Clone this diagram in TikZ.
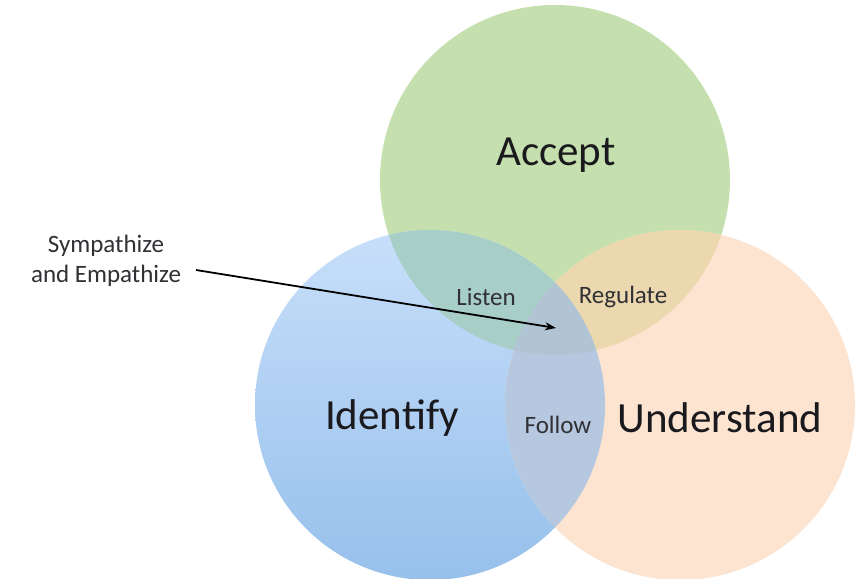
\documentclass[tikz,border=0pt]{standalone}
\usepackage{fontspec}
\setmainfont{Carlito}
\usetikzlibrary{arrows.meta}
\definecolor{cgreen}{RGB}{197,224,174}
\definecolor{cbluetop}{RGB}{200,223,250}
\definecolor{cbluebot}{RGB}{150,192,235}
\definecolor{corange}{RGB}{252,228,208}
\definecolor{cgb}{RGB}{168,206,200}
\definecolor{cgo}{RGB}{236,216,174}
\definecolor{cbo}{RGB}{181,200,224}
\definecolor{cgbo}{RGB}{176,196,212}
\definecolor{ctext}{RGB}{25,25,30}
\tikzset{
  bigtxt/.style={font=\fontsize{43}{48}\selectfont, text=ctext, inner sep=0pt},
  smalltxt/.style={font=\fontsize{25}{30}\selectfont, text=ctext!90, inner sep=0pt},
}
\begin{document}
\begin{tikzpicture}[x=1pt,y=-1pt]
\useasboundingbox (0,0) rectangle (856,578);
\fill[white] (0,0) rectangle (856,578);
\coordinate (G) at (555,180);
\coordinate (B) at (430,405);
\coordinate (O) at (680,405);
\def\R{175pt}
\fill[cgreen] (G) circle (\R);
\shade[top color=cbluetop, bottom color=cbluebot] (B) circle (\R);
\fill[corange] (O) circle (\R);
\begin{scope}
  \clip (G) circle (\R);
  \fill[cgb] (B) circle (\R);
  \fill[cgo] (O) circle (\R);
\end{scope}
\begin{scope}
  \clip (B) circle (\R);
  \fill[cbo] (O) circle (\R);
  \clip (O) circle (\R);
  \fill[cgbo] (G) circle (\R);
\end{scope}
\node[bigtxt] (accept) at (556,155) {Accept};
\node[bigtxt] (identify) at (392,418) {Identify};
\node[bigtxt] (understand) at (720,418) {Understand};
\node[smalltxt] (listen) at (486,297) {Listen};
\node[smalltxt] (regulate) at (623,297) {Regulate};
\node[smalltxt] (follow) at (558,425) {Follow};
\node[smalltxt, align=center] (sym) at (106,261) {Sympathize\\and Empathize};
\coordinate (start) at (196,270);
\coordinate (tip) at (556,328);
\draw[line width=1.8pt, -{Stealth[length=11pt,width=8pt]}] (start) -- (tip);
\end{tikzpicture}
\end{document}
